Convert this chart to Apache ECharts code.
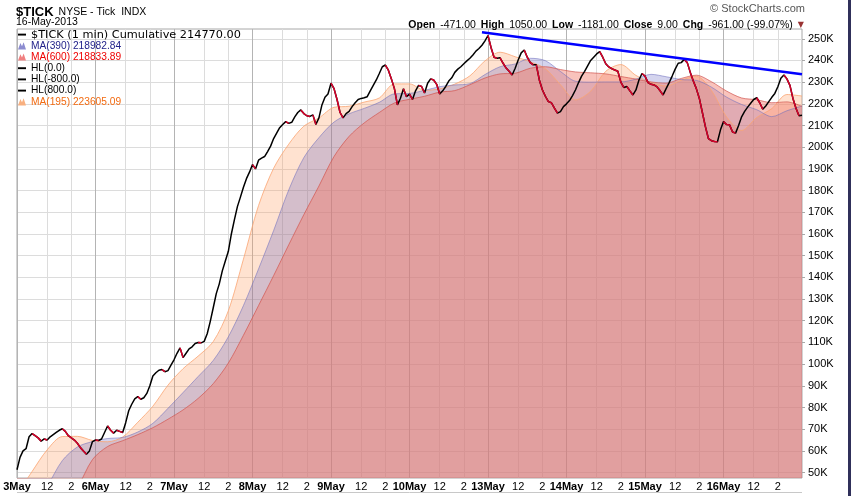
<!DOCTYPE html>
<html>
<head>
<meta charset="utf-8">
<title>$TICK NYSE - Tick INDX</title>
<script src="https://cdn.jsdelivr.net/npm/echarts@6/dist/echarts.min.js"></script>
<style>
html,body{margin:0;padding:0;background:#fff;}
#chart{width:851px;height:496px;}
</style>
</head>
<body>
<div id="chart"></div>
<script>
// 交易日，每天 26 个 15 分钟格（9:30 开盘）
var days = ['3May','6May','7May','8May','9May','10May','13May','14May','15May','16May'];
var slotsPerDay = 26;
var slot12 = 10, slot2 = 18;   // 12:00 和 14:00 所在格

// $TICK 累计值（每 15 分钟读一个点），最后一个是 16May 收盘
var tickCum = [
  51300,57000,60000,61000,66500,68000,67000,66000,64500,65500,65000,66500,67500,68500,69500,70200,69000,67000,66000,65000,63500,61500,60000,58500,60000,64300,
  65000,64800,65500,68500,71500,69500,68200,69500,69000,68500,73000,78500,81500,84000,85000,83800,84500,86500,90000,94500,96000,97200,97500,96500,97000,99500,
  102000,105000,107500,103000,105000,107000,108000,109500,110000,109800,110500,114000,119600,126000,132500,137000,143000,147500,152000,160000,166500,172600,177000,181500,185500,188500,
  192000,190000,194000,195000,195700,198000,200500,204000,206500,209000,210500,211800,211000,211500,214000,216000,217200,215500,214500,214200,214900,210500,213500,219500,223000,224500,
  229500,227000,222000,216000,213500,215500,216500,218700,220500,222000,222500,222800,223300,226000,228500,231000,234000,237100,237900,235500,231500,227000,219500,222600,227000,223300,
  224500,222000,226000,228500,228000,225000,229500,231500,231000,229000,224500,226000,228000,230500,232000,234500,236000,237100,238500,239800,241000,242500,244300,245500,247000,249000,
  251500,246000,241500,241000,241200,238700,236500,235000,233300,236400,240200,243500,244800,241500,239000,238000,238000,231000,226500,223500,221000,220500,218000,215700,216400,218700,
  220000,221500,223800,226500,229800,232800,235000,237500,240000,241500,243000,244100,241500,238500,237000,236200,235600,235000,230000,227500,228000,226000,224100,226400,231000,234000,
  232800,229800,229000,228700,227800,226000,224100,227000,229800,232800,236000,238700,239000,240500,239000,234500,230500,227000,222500,216000,209500,204000,203000,202600,202500,208000,
  211800,210500,210300,207000,206500,210000,214000,216500,218500,220300,222000,222800,220500,217500,219000,221000,223000,224800,227900,231800,233300,231500,228500,222500,218000,214500,
  214770
];

// 均线，每 5 格读一个点
var maStep = 5;
var ma195 = [40000,50500,60500,66600,66700,64800,64200,66400,73200,80600,90300,97900,103700,110400,124600,148400,173100,190300,201400,209700,213500,
  218400,218900,220800,222700,229200,229200,226200,226900,229100,232900,239800,243800,241700,239400,236200,228800,221800,225800,235000,238100,233100,
  229900,228200,230900,232700,226200,214000,207700,213700,217800,224300,223605];
var ma390 = [22000,32000,43500,55500,61800,64300,65700,66200,68700,72700,79600,86900,94300,101700,112600,127000,143900,161600,180300,195200,204400,
  211600,215400,217900,220700,224600,224800,226200,227900,228700,229300,233500,237100,238400,241000,239900,234900,230400,230000,230100,230100,231400,
  233600,232500,231200,230800,227700,223100,219700,217300,214100,216800,218983];
var ma600 = [10000,18000,26000,34000,43000,56000,62000,64700,67500,70700,74600,78900,84200,91000,100500,113300,127000,140800,155000,168900,182100,
  195700,205000,211200,216000,220400,222100,223500,225400,226100,228800,231900,233800,234100,236400,237100,235800,234700,234300,233800,232600,231400,
  230100,229500,231700,233200,230200,225900,222700,221900,220500,220900,218834];

var hlLevels = [0, -800, 800];
var trendLine = [[154, 253000], [260, 233600]];
var yTicks = [50000,60000,70000,80000,90000,100000,110000,120000,130000,140000,150000,160000,170000,180000,190000,200000,210000,220000,230000,240000,250000];

// x 轴类目
var categories = [];
days.forEach(function (d) {
  for (var j = 0; j < slotsPerDay; j++) {
    var m = 570 + j * 15;
    var t = Math.floor(m / 60) + ':' + ('0' + m % 60).slice(-2);
    categories.push(j === 0 ? d : (j === slot12 ? '12' : (j === slot2 ? '2' : t)));
  }
});
categories.push('16:00');

function toPairs(arr) {
  return arr.map(function (v, k) { return [k * maStep, v]; });
}

// 下跌段用红线盖在黑线上，分两组交替放，避免两段之间被连起来
var downA = tickCum.map(function () { return null; });
var downB = downA.slice();
var piece = -1, inDown = false;
for (var i = 0; i < tickCum.length - 1; i++) {
  if (tickCum[i + 1] < tickCum[i]) {
    if (!inDown) { piece++; inDown = true; }
    var target = piece % 2 ? downB : downA;
    target[i] = tickCum[i];
    target[i + 1] = tickCum[i + 1];
  } else {
    inDown = false;
  }
}

function showSlot(index) {
  var j = index % slotsPerDay;
  return index < tickCum.length - 1 && (j === 0 || j === slot12 || j === slot2);
}

var tickName = '$TICK (1 min) Cumulative 214770.00';
var lineIcon = 'path://M0,0h10v2.4H0z';
var hillIcon = 'path://M0,10L3,2L5,6L7,1L10,10Z';
var smallText = {fontSize: 10.2, fontFamily: 'Liberation Sans'};

function legendItem(name, icon, iconColor, textColor) {
  return {
    name: name, icon: icon, itemStyle: {color: iconColor},
    textStyle: {color: textColor, fontSize: smallText.fontSize, fontFamily: smallText.fontFamily, lineHeight: 11.2}
  };
}

function downSeries(data) {
  return {
    name: 'down', type: 'line', data: data, showSymbol: false, z: 6, silent: true,
    connectNulls: false, lineStyle: {color: '#d8002a', width: 1.5}
  };
}

var chart = echarts.init(document.getElementById('chart'));
chart.setOption({
  animation: false,
  backgroundColor: '#fff',
  title: [
    {
      left: 16, top: 3, padding: 0,
      text: '{a|$TICK} {b|NYSE - Tick  INDX}',
      textStyle: {rich: {
        a: {fontSize: 13, fontWeight: 'bold', fontFamily: 'Liberation Sans', color: '#000'},
        b: {fontSize: 10.5, fontWeight: 'normal', fontFamily: 'Liberation Sans', color: '#000'}
      }}
    },
    {
      left: 16, top: 17, padding: 0, text: '16-May-2013',
      textStyle: {fontSize: 10.5, fontWeight: 'normal', fontFamily: 'Liberation Sans', color: '#000'}
    },
    {
      right: 46, top: 3, padding: 0, text: '\u00a9 StockCharts.com',
      textStyle: {fontSize: 11, fontWeight: 'normal', fontFamily: 'Liberation Sans', color: '#555'}
    },
    {
      right: 47, top: 16, padding: 0,
      text: '{k|Open} {v|-471.00} {k|High} {v|1050.00} {k|Low} {v|-1181.00} {k|Close} {v|9.00} {k|Chg} {v|-961.00 (-99.07%)} {t|\u25bc}',
      textStyle: {rich: {
        k: {fontSize: 10.5, fontWeight: 'bold', fontFamily: 'Liberation Sans', color: '#000'},
        v: {fontSize: 10.5, fontWeight: 'normal', fontFamily: 'Liberation Sans', color: '#000'},
        t: {fontSize: 8, fontWeight: 'normal', fontFamily: 'DejaVu Sans', color: '#993333'}
      }}
    }
  ],
  legend: {
    orient: 'vertical', left: 18, top: 29, padding: 0,
    itemWidth: 8, itemHeight: 9, itemGap: 0,
    selectedMode: false,
    textStyle: {fontSize: 11.3, fontFamily: 'DejaVu Sans', color: '#000', lineHeight: 11.2},
    data: [
      {name: tickName, icon: lineIcon, itemStyle: {color: '#000'}},
      legendItem('MA(390) 218982.84', hillIcon, '#8c8cd0', '#22228a'),
      legendItem('MA(600) 218833.89', hillIcon, '#f08080', '#ee0000'),
      legendItem('HL(0.0)', lineIcon, '#000', '#000'),
      legendItem('HL(-800.0)', lineIcon, '#000', '#000'),
      legendItem('HL(800.0)', lineIcon, '#000', '#000'),
      legendItem('MA(195) 223605.09', hillIcon, '#f8b080', '#f26a10')
    ]
  },
  grid: {left: 17, right: 49, top: 29, bottom: 18, show: true, borderColor: '#a8a8a8', borderWidth: 1},
  xAxis: {
    type: 'category', data: categories, boundaryGap: false,
    axisLine: {show: false}, axisTick: {show: false},
    axisLabel: {
      interval: showSlot, margin: 3, fontSize: 11, fontFamily: 'Liberation Sans', color: '#000',
      formatter: function (value, index) {
        return index % slotsPerDay === 0 ? '{d|' + value + '}' : value;
      },
      rich: {d: {fontSize: 11, fontWeight: 'bold', fontFamily: 'Liberation Sans', color: '#000'}}
    },
    splitLine: {show: true, interval: showSlot, lineStyle: {color: ['#b4b4b4', '#dcdcdc', '#dcdcdc'], width: 1}}
  },
  yAxis: {
    type: 'value', position: 'right', min: 47500, max: 254500,
    axisLine: {show: false},
    axisTick: {show: true, customValues: yTicks, length: 3, lineStyle: {color: '#a8a8a8'}},
    axisLabel: {
      customValues: yTicks, margin: 6, fontSize: 11, fontFamily: 'Liberation Sans', color: '#000',
      formatter: function (v) { return v / 1000 + 'K'; }
    },
    splitLine: {show: true, lineStyle: {color: '#dcdcdc', width: 1}}
  },
  series: [
    {
      name: 'MA(195) 223605.09', type: 'line', data: toPairs(ma195), smooth: 0.3,
      showSymbol: false, silent: true,
      lineStyle: {color: 'rgba(250,165,115,0.8)', width: 1},
      itemStyle: {color: '#f8b080'},
      areaStyle: {color: 'rgba(255,160,100,0.3)', opacity: 1, origin: 'start'}
    },
    {
      name: 'MA(390) 218982.84', type: 'line', data: toPairs(ma390), smooth: 0.3,
      showSymbol: false, silent: true,
      lineStyle: {color: 'rgba(110,110,190,0.55)', width: 1},
      itemStyle: {color: '#8c8cd0'},
      areaStyle: {color: 'rgba(90,90,190,0.26)', opacity: 1, origin: 'start'}
    },
    {
      name: 'MA(600) 218833.89', type: 'line', data: toPairs(ma600), smooth: 0.3,
      showSymbol: false, silent: true,
      lineStyle: {color: 'rgba(210,85,80,0.7)', width: 1},
      itemStyle: {color: '#f08080'},
      areaStyle: {color: 'rgba(241,122,106,0.45)', opacity: 1, origin: 'start'}
    },
    {name: 'HL(0.0)', type: 'line', data: [[0, hlLevels[0]], [260, hlLevels[0]]], showSymbol: false, lineStyle: {color: '#000', width: 1}},
    {name: 'HL(-800.0)', type: 'line', data: [[0, hlLevels[1]], [260, hlLevels[1]]], showSymbol: false, lineStyle: {color: '#000', width: 1}},
    {name: 'HL(800.0)', type: 'line', data: [[0, hlLevels[2]], [260, hlLevels[2]]], showSymbol: false, lineStyle: {color: '#000', width: 1}},
    {
      name: tickName, type: 'line', data: tickCum, showSymbol: false, z: 5,
      itemStyle: {color: '#000'}, lineStyle: {color: '#000', width: 1.5}
    },
    downSeries(downA),
    downSeries(downB),
    {
      name: 'trend', type: 'line', data: trendLine, z: 7,
      symbol: 'rect', symbolSize: 7, showSymbol: true,
      lineStyle: {color: '#0000ff', width: 2.5},
      itemStyle: {color: '#ffee00', borderColor: '#d9a000', borderWidth: 1}
    }
  ],
  graphic: [
    {type: 'line', shape: {x1: 17, y1: 492.5, x2: 802, y2: 492.5}, style: {stroke: '#c8c8c8', lineWidth: 1}, silent: true},
    {type: 'rect', shape: {x: 848, y: 0, width: 3, height: 496}, style: {fill: '#30305a'}, silent: true}
  ]
});
</script>
</body>
</html>
